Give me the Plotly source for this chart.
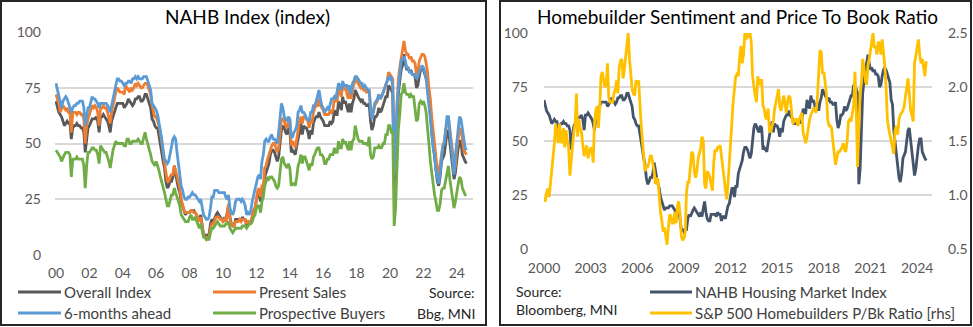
import pandas as pd
import plotly.graph_objects as go

# ---------------- DATA (monthly, Jan 2000 - Aug 2024) ----------------
overall_index = [
    69, 66, 64, 63, 62, 60, 58, 59, 60, 59, 59, 52,  # 2000
    57, 58, 58, 59, 58, 58, 57, 57, 55, 46, 52, 57,  # 2001
    58, 60, 61, 61, 61, 62, 60, 55, 62, 62, 63, 62,  # 2002
    61, 60, 58, 55, 60, 62, 64, 67, 68, 68, 68, 68,  # 2003
    68, 66, 67, 68, 70, 69, 68, 67, 68, 70, 70, 71,  # 2004
    71, 69, 69, 70, 72, 72, 70, 68, 66, 61, 60, 58,  # 2005
    57, 57, 54, 51, 46, 42, 39, 33, 30, 31, 33, 33,  # 2006
    35, 40, 36, 33, 30, 28, 24, 22, 20, 18, 19, 19,  # 2007
    19, 20, 20, 20, 19, 18, 16, 16, 18, 14, 9, 9,    # 2008
    8, 9, 9, 14, 16, 15, 17, 18, 19, 18, 17, 16,     # 2009
    15, 17, 15, 19, 22, 17, 14, 13, 13, 16, 16, 16,  # 2010
    16, 15, 17, 16, 16, 13, 15, 15, 14, 17, 20, 21,  # 2011
    25, 28, 28, 24, 29, 29, 35, 37, 40, 41, 45, 47,  # 2012
    47, 46, 44, 42, 44, 51, 56, 58, 57, 55, 54, 57,  # 2013
    56, 46, 47, 46, 45, 49, 53, 55, 59, 54, 58, 57,  # 2014
    57, 55, 52, 56, 54, 59, 61, 62, 62, 64, 62, 61,  # 2015
    60, 58, 58, 58, 58, 60, 59, 60, 65, 63, 63, 69,  # 2016
    67, 65, 71, 68, 69, 67, 64, 68, 64, 68, 70, 74,  # 2017
    72, 71, 70, 69, 70, 68, 68, 67, 67, 68, 60, 56,  # 2018
    58, 62, 62, 63, 66, 64, 65, 67, 68, 71, 71, 76,  # 2019
    75, 74, 72, 30, 37, 58, 72, 78, 83, 85, 90, 86,  # 2020
    83, 84, 82, 83, 81, 81, 80, 75, 76, 80, 83, 84,  # 2021
    83, 81, 79, 77, 69, 67, 55, 49, 46, 38, 33, 31,  # 2022
    35, 42, 44, 45, 50, 55, 56, 50, 45, 40, 34, 37,  # 2023
    44, 48, 51, 51, 45, 43, 42, 41,                  # 2024
]

present_sales = [
    72, 70, 68, 64, 66, 67, 66, 65, 66, 64, 64, 55,  # 2000
    64, 64, 64, 63, 64, 64, 63, 63, 61, 50, 58, 61,  # 2001
    63, 66, 67, 66, 67, 66, 64, 58, 66, 66, 67, 66,  # 2002
    66, 64, 62, 59, 64, 68, 70, 73, 75, 74, 73, 73,  # 2003
    73, 72, 76, 75, 74, 73, 75, 74, 75, 77, 76, 77,  # 2004
    76, 75, 75, 76, 77, 77, 76, 74, 72, 67, 64, 62,  # 2005
    62, 60, 58, 55, 50, 46, 42, 37, 33, 33, 35, 36,  # 2006
    36, 40, 38, 35, 33, 30, 25, 22, 20, 19, 19, 19,  # 2007
    19, 20, 20, 19, 19, 18, 16, 15, 17, 13, 9, 8,    # 2008
    7, 8, 8, 12, 14, 14, 16, 17, 17, 17, 16, 16,     # 2009
    15, 16, 15, 18, 23, 16, 14, 13, 13, 15, 15, 15,  # 2010
    16, 15, 16, 16, 16, 14, 15, 15, 15, 17, 20, 21,  # 2011
    26, 29, 30, 26, 31, 31, 39, 40, 43, 45, 48, 49,  # 2012
    50, 50, 48, 46, 48, 55, 61, 61, 60, 58, 57, 60,  # 2013
    60, 49, 51, 50, 48, 52, 57, 60, 62, 59, 62, 62,  # 2014
    61, 60, 57, 61, 59, 64, 66, 67, 67, 70, 67, 66,  # 2015
    65, 63, 63, 63, 63, 65, 64, 65, 71, 69, 69, 75,  # 2016
    73, 71, 77, 74, 75, 73, 70, 74, 70, 74, 76, 79,  # 2017
    78, 77, 76, 75, 76, 74, 74, 73, 73, 74, 67, 62,  # 2018
    64, 67, 68, 69, 72, 70, 71, 73, 74, 77, 78, 82,  # 2019
    81, 80, 79, 36, 42, 63, 79, 84, 88, 90, 96, 92,  # 2020
    90, 90, 88, 89, 87, 87, 86, 81, 82, 87, 89, 90,  # 2021
    90, 89, 86, 82, 75, 70, 62, 56, 50, 43, 38, 36,  # 2022
    40, 46, 49, 51, 56, 60, 62, 57, 51, 46, 37, 40,  # 2023
    48, 53, 56, 57, 51, 47, 46, 45,                  # 2024
]

six_months_ahead = [
    77, 74, 72, 68, 66, 69, 70, 71, 70, 68, 66, 64,  # 2000
    66, 67, 67, 68, 68, 69, 69, 69, 66, 58, 62, 66,  # 2001
    66, 69, 71, 70, 70, 69, 68, 66, 68, 68, 68, 68,  # 2002
    68, 67, 66, 64, 67, 70, 72, 75, 79, 79, 78, 78,  # 2003
    77, 76, 77, 77, 78, 78, 77, 79, 79, 80, 79, 80,  # 2004
    79, 79, 79, 80, 80, 80, 78, 76, 74, 68, 67, 66,  # 2005
    65, 63, 60, 56, 52, 47, 43, 42, 41, 42, 46, 50,  # 2006
    52, 53, 52, 46, 41, 36, 31, 29, 26, 25, 25, 26,  # 2007
    26, 27, 28, 27, 27, 26, 25, 24, 25, 21, 18, 17,  # 2008
    16, 16, 17, 21, 26, 26, 29, 29, 29, 28, 28, 28,  # 2009
    28, 28, 26, 25, 27, 21, 19, 18, 20, 24, 25, 25,  # 2010
    25, 24, 25, 24, 22, 18, 19, 18, 20, 24, 27, 29,  # 2011
    33, 35, 36, 34, 42, 45, 51, 52, 51, 51, 53, 54,  # 2012
    52, 52, 51, 50, 55, 62, 68, 66, 62, 61, 60, 62,  # 2013
    61, 53, 53, 55, 56, 58, 64, 65, 67, 64, 64, 63,  # 2014
    61, 61, 60, 64, 64, 67, 67, 69, 72, 74, 70, 67,  # 2015
    66, 64, 65, 66, 65, 68, 70, 70, 71, 70, 73, 77,  # 2016
    76, 74, 78, 76, 76, 76, 74, 76, 72, 77, 78, 80,  # 2017
    80, 79, 78, 77, 77, 75, 76, 75, 74, 74, 65, 61,  # 2018
    64, 68, 69, 70, 72, 70, 71, 73, 74, 77, 78, 80,  # 2019
    79, 80, 75, 36, 48, 68, 75, 82, 87, 88, 89, 87,  # 2020
    84, 84, 82, 82, 81, 81, 81, 79, 80, 82, 84, 85,  # 2021
    84, 82, 79, 73, 67, 63, 55, 48, 45, 38, 34, 32,  # 2022
    37, 44, 49, 50, 56, 62, 62, 55, 50, 44, 36, 45,  # 2023
    52, 59, 62, 61, 57, 51, 48, 47,                  # 2024
]

prospective_buyers = [
    47, 46, 45, 44, 42, 44, 45, 46, 46, 46, 45, 35,  # 2000
    43, 43, 43, 44, 43, 43, 43, 43, 40, 30, 40, 46,  # 2001
    46, 47, 48, 48, 47, 47, 45, 41, 49, 48, 47, 46,  # 2002
    46, 44, 42, 39, 44, 47, 49, 51, 50, 50, 50, 50,  # 2003
    50, 49, 49, 52, 52, 50, 50, 51, 51, 51, 51, 52,  # 2004
    51, 50, 50, 53, 55, 52, 50, 48, 45, 42, 41, 40,  # 2005
    42, 40, 38, 35, 33, 30, 28, 25, 22, 22, 25, 27,  # 2006
    27, 30, 28, 26, 25, 22, 18, 17, 16, 15, 15, 15,  # 2007
    17, 18, 16, 16, 17, 15, 13, 12, 14, 11, 8, 8,    # 2008
    7, 7, 7, 10, 12, 12, 13, 14, 15, 14, 13, 13,     # 2009
    13, 13, 14, 14, 15, 12, 11, 10, 11, 12, 12, 12,  # 2010
    12, 12, 13, 13, 13, 12, 13, 14, 14, 15, 17, 18,  # 2011
    21, 22, 22, 19, 24, 26, 31, 33, 35, 34, 35, 35,  # 2012
    34, 33, 31, 30, 31, 38, 43, 44, 41, 40, 39, 41,  # 2013
    39, 31, 32, 32, 31, 35, 40, 42, 45, 41, 44, 44,  # 2014
    42, 40, 38, 41, 40, 44, 45, 47, 48, 48, 45, 45,  # 2015
    44, 41, 41, 43, 43, 45, 45, 45, 48, 46, 46, 51,  # 2016
    48, 48, 52, 50, 51, 49, 47, 51, 47, 51, 52, 58,  # 2017
    54, 52, 51, 51, 51, 50, 50, 50, 49, 53, 45, 43,  # 2018
    44, 48, 48, 48, 49, 48, 48, 50, 50, 54, 54, 58,  # 2019
    58, 55, 55, 13, 21, 43, 56, 63, 72, 73, 77, 73,  # 2020
    72, 72, 71, 72, 71, 71, 65, 60, 61, 68, 69, 68,  # 2021
    69, 67, 64, 58, 50, 42, 37, 30, 27, 24, 20, 20,  # 2022
    23, 29, 30, 30, 34, 38, 40, 34, 30, 26, 21, 24,  # 2023
    29, 32, 35, 34, 30, 28, 27, 27,                  # 2024
]

homebuilders_pb = [
    0.98, 0.94, 1.02, 1.06, 0.98, 1.10, 1.26, 1.36, 1.48, 1.66, 1.54, 1.48,  # 2000
    1.66, 1.50, 1.48, 1.62, 1.44, 1.60, 1.50, 1.44, 1.18, 1.34, 1.50, 1.58,  # 2001
    1.66, 1.94, 1.54, 1.70, 1.62, 1.58, 1.46, 1.36, 1.42, 1.46, 1.34, 1.40,  # 2002
    1.44, 1.42, 1.30, 1.66, 1.78, 1.82, 1.62, 1.80, 2.10, 2.14, 2.08, 2.00,  # 2003
    2.02, 2.22, 1.90, 1.86, 1.86, 1.86, 1.94, 1.98, 2.06, 1.94, 2.18, 2.24,  # 2004
    2.26, 2.08, 2.16, 2.30, 2.42, 2.50, 2.26, 2.10, 1.98, 1.94, 1.92, 2.06,  # 2005
    2.04, 2.06, 1.80, 1.66, 1.50, 1.38, 1.22, 1.26, 1.26, 1.30, 1.36, 1.36,  # 2006
    1.30, 1.22, 1.10, 1.16, 1.14, 0.98, 0.84, 0.76, 0.66, 0.70, 0.62, 0.54,  # 2007
    0.70, 0.82, 0.80, 0.74, 0.74, 0.84, 0.74, 0.90, 0.94, 0.82, 0.62, 0.58,  # 2008
    0.60, 0.66, 1.02, 1.12, 1.12, 1.26, 1.40, 1.38, 1.22, 1.16, 1.22, 1.34,  # 2009
    1.38, 1.44, 1.54, 1.50, 1.10, 1.06, 1.22, 1.20, 1.16, 1.10, 1.04, 1.30,  # 2010
    1.42, 1.40, 1.44, 1.44, 1.46, 1.36, 1.26, 1.16, 1.04, 0.96, 1.10, 1.30,  # 2011
    1.40, 1.66, 1.86, 1.98, 2.10, 2.12, 2.10, 2.28, 2.38, 2.22, 2.30, 2.50,  # 2012
    2.44, 2.50, 2.48, 2.50, 2.42, 2.10, 1.98, 1.92, 1.86, 2.10, 2.02, 2.06,  # 2013
    2.06, 1.82, 1.80, 1.72, 1.70, 1.80, 1.60, 1.58, 1.64, 1.68, 1.80, 1.86,  # 2014
    1.90, 1.98, 1.82, 1.78, 1.84, 1.92, 1.86, 1.76, 1.86, 1.92, 1.90, 1.80,  # 2015
    1.66, 1.68, 1.70, 1.70, 1.64, 1.70, 1.74, 1.76, 1.58, 1.54, 1.48, 1.54,  # 2016
    1.64, 1.70, 1.74, 1.78, 1.80, 1.80, 1.76, 1.90, 2.20, 2.34, 2.32, 2.12,  # 2017
    2.14, 2.00, 1.94, 1.70, 1.64, 1.64, 1.62, 1.50, 1.40, 1.28, 1.34, 1.40,  # 2018
    1.40, 1.42, 1.44, 1.48, 1.42, 1.40, 1.50, 1.68, 1.70, 1.68, 1.76, 1.82,  # 2019
    2.14, 1.80, 1.26, 1.60, 1.94, 2.04, 2.26, 2.18, 2.06, 2.02, 2.20, 2.26,  # 2020
    2.34, 2.44, 2.50, 2.36, 2.38, 2.30, 2.42, 2.40, 2.30, 2.44, 2.34, 2.20,  # 2021
    2.00, 1.70, 1.62, 1.56, 1.48, 1.42, 1.38, 1.60, 1.64, 1.56, 1.70, 1.74,  # 2022
    1.76, 1.78, 1.82, 1.90, 2.00, 2.08, 1.94, 1.78, 1.74, 1.68, 2.22, 2.30,  # 2023
    2.38, 2.44, 2.30, 2.22, 2.26, 2.16, 2.10, 2.24,                          # 2024
]

dates = pd.date_range("2000-01-01", periods=len(overall_index), freq="MS")

left_title = "NAHB Index (index)"
right_title = "Homebuilder Sentiment and Price To Book Ratio"
left_names = ["Overall Index", "Present Sales", "6-months ahead", "Prospective Buyers"]
right_names = ["NAHB Housing Market Index", "S&P 500 Homebuilders P/Bk Ratio [rhs]"]
left_yticks = [0, 25, 50, 75, 100]
right_y2ticks = [0.5, 1.0, 1.5, 2.0, 2.5]

# ---------------- STYLE ----------------
W, H = 973, 327
FONT = "Lato"
C_DARK = "#595959"
C_ORANGE = "#ED7D31"
C_BLUE = "#5B9BD5"
C_GREEN = "#70AD47"
C_NAVY = "#44546A"
C_YELLOW = "#FFC000"
GRID = "#d9d9d9"
TICK = "#595959"
LW = 2.8


def px(x):
    return x / W


def py(y):
    return 1 - y / H


fig = go.Figure()

left_series = [overall_index, present_sales, six_months_ahead, prospective_buyers]
left_colors = [C_DARK, C_ORANGE, C_BLUE, C_GREEN]
for name, vals, col in zip(left_names, left_series, left_colors):
    fig.add_trace(go.Scatter(x=dates, y=vals, name=name, mode="lines",
                             line=dict(color=col, width=LW),
                             xaxis="x", yaxis="y", showlegend=False))

fig.add_trace(go.Scatter(x=dates, y=overall_index, name=right_names[0], mode="lines",
                         line=dict(color=C_NAVY, width=LW),
                         xaxis="x2", yaxis="y2", showlegend=False))
fig.add_trace(go.Scatter(x=dates, y=homebuilders_pb, name=right_names[1], mode="lines",
                         line=dict(color=C_YELLOW, width=LW),
                         xaxis="x2", yaxis="y3", showlegend=False))

axis_common = dict(showline=False, zeroline=False, ticks="", automargin=False,
                   tickfont=dict(family=FONT, size=14, color=TICK))

fig.update_layout(
    template="none",
    width=W, height=H,
    margin=dict(l=0, r=0, t=0, b=0, pad=0, autoexpand=False),
    paper_bgcolor="white", plot_bgcolor="white",
    font=dict(family=FONT),
    showlegend=False,
    xaxis=dict(domain=[px(55), px(473)], anchor="y", type="date",
               range=["1999-12-10", "2024-12-20"],
               tick0="2000-01-01", dtick="M24", tickformat="%y",
               showgrid=False, ticklabelstandoff=8, **axis_common),
    yaxis=dict(domain=[py(255), py(32)], anchor="x", range=[0, 100],
               tickvals=left_yticks, showgrid=True, gridcolor=GRID, gridwidth=2,
               ticklabelstandoff=13, **axis_common),
    xaxis2=dict(domain=[px(544), px(932)], anchor="y2", type="date",
                range=["2000-01-01", "2024-12-15"],
                tick0="2000-01-01", dtick="M36", tickformat="%Y",
                showgrid=False, ticklabelstandoff=9, **axis_common),
    yaxis2=dict(domain=[py(249), py(33)], anchor="x2", range=[0, 100],
                tickvals=left_yticks, showgrid=True, gridcolor=GRID, gridwidth=2,
                ticklabelstandoff=15, **axis_common),
    yaxis3=dict(overlaying="y2", side="right", anchor="x2", range=[0.5, 2.5],
                tickvals=right_y2ticks, tickformat=".1f", showgrid=False,
                ticklabelstandoff=15, **axis_common),
)

shapes = []
annotations = []

# panel borders
shapes.append(dict(type="rect", xref="paper", yref="paper",
                   x0=px(1), x1=px(486), y0=py(325), y1=py(1),
                   line=dict(color="#262626", width=2)))
shapes.append(dict(type="rect", xref="paper", yref="paper",
                   x0=px(500), x1=px(971), y0=py(325), y1=py(1),
                   line=dict(color="#262626", width=2)))

# titles
TITLE_FONT = dict(family=FONT, size=19, color="#000000")
annotations.append(dict(text=left_title, x=px(247), y=py(16.5), xref="paper", yref="paper",
                        xanchor="center", yanchor="middle", showarrow=False,
                        font=TITLE_FONT))
annotations.append(dict(text=right_title, x=px(737), y=py(16.5), xref="paper", yref="paper",
                        xanchor="center", yanchor="middle", showarrow=False,
                        font=TITLE_FONT))

LEG_FONT = dict(family=FONT, size=15, color="#404040")


def legend_item(x0, x1, y, color, text):
    shapes.append(dict(type="line", xref="paper", yref="paper",
                       x0=px(x0), x1=px(x1), y0=py(y), y1=py(y),
                       line=dict(color=color, width=LW)))
    annotations.append(dict(text=text, x=px(x1 + 1), y=py(y), xref="paper", yref="paper",
                            xanchor="left", yanchor="middle", showarrow=False,
                            font=LEG_FONT))


legend_item(18, 61, 292, C_DARK, left_names[0])
legend_item(213, 256, 292, C_ORANGE, left_names[1])
legend_item(18, 61, 313, C_BLUE, left_names[2])
legend_item(213, 256, 313, C_GREEN, left_names[3])
legend_item(650, 692, 292, C_NAVY, right_names[0])
legend_item(650, 692, 313, C_YELLOW, right_names[1])

SRC_FONT = dict(family=FONT, size=14, color="#262626")
annotations.append(dict(text="Source:", x=px(477), y=py(292), xref="paper", yref="paper",
                        xanchor="right", yanchor="middle", showarrow=False, font=SRC_FONT))
annotations.append(dict(text="Bbg, MNI", x=px(477), y=py(313), xref="paper", yref="paper",
                        xanchor="right", yanchor="middle", showarrow=False, font=SRC_FONT))
annotations.append(dict(text="Source:", x=px(514), y=py(291), xref="paper", yref="paper",
                        xanchor="left", yanchor="middle", showarrow=False, font=SRC_FONT))
annotations.append(dict(text="Bloomberg, MNI", x=px(514), y=py(309), xref="paper", yref="paper",
                        xanchor="left", yanchor="middle", showarrow=False, font=SRC_FONT))

fig.update_layout(shapes=shapes, annotations=annotations)

fig.write_html("out.html")
